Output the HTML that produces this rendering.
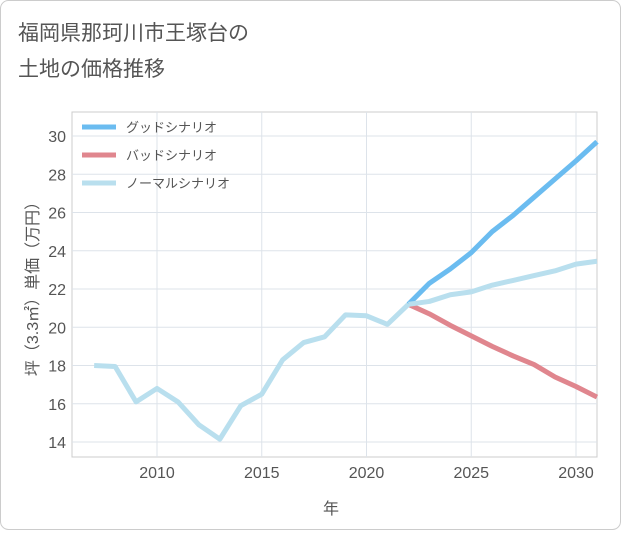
<!DOCTYPE html>
<html><head><meta charset="utf-8"><style>
body{margin:0;background:#fff;font-family:"Liberation Sans","Noto Sans CJK JP",sans-serif;}
#c{position:relative;width:621px;height:530px;}
</style></head><body>
<div id="c">
<svg id="s" width="621" height="530" xmlns="http://www.w3.org/2000/svg">
<rect x="0.5" y="0.5" width="620" height="529" rx="8" fill="#fff" stroke="#ccc"/>
<text x="18" y="40" font-size="21" fill="#555">福岡県那珂川市王塚台の</text>
<text x="18" y="76" font-size="21" fill="#555">土地の価格推移</text>
<text x="331" y="514" font-size="16" fill="#555" text-anchor="middle">年</text>
<text transform="translate(38,285) rotate(-90)" font-size="16" fill="#555" text-anchor="middle">坪（3.3㎡）単価（万円）</text>
<g id="grid"></g><g id="lines"></g><g id="legend"></g>
</svg></div>
<script>
const years=[2007,2008,2009,2010,2011,2012,2013,2014,2015,2016,2017,2018,2019,2020,2021,2022];
const hist=[18.0,17.95,16.1,16.8,16.1,14.9,14.15,15.9,16.5,18.3,19.2,19.5,20.65,20.6,20.15,21.2];
const futYears=[2022,2023,2024,2025,2026,2027,2028,2029,2030,2031];
const good=[21.2,22.3,23.05,23.9,25.0,25.85,26.8,27.75,28.7,29.7];
const bad=[21.2,20.7,20.1,19.55,19.0,18.5,18.05,17.4,16.9,16.35];
const normal=[21.2,21.35,21.7,21.85,22.2,22.45,22.7,22.95,23.3,23.45];
const xTicks=[2010,2015,2020,2025,2030];
const yTicks=[14,16,18,20,22,24,26,28,30];
const L=72,R=597,T=112,B=457;
const X=v=>157+(v-2010)*20.95, Y=v=>136+(30-v)*19.125;
const ns="http://www.w3.org/2000/svg";
function mk(p,t,a){const e=document.createElementNS(ns,t);for(const k in a)e.setAttribute(k,a[k]);p.appendChild(e);return e;}
const g=document.getElementById('grid');
let fr=mk(g,'rect',{x:L,y:T,width:R-L,height:B-T,fill:'none',stroke:'#ccc'});


xTicks.forEach(v=>{let l=mk(g,'line',{x1:X(v),x2:X(v),y1:T,y2:B,stroke:'#dde3ea'});


let t=mk(g,'text',{x:X(v),y:B+21,'font-size':16,fill:'#555','text-anchor':'middle'});t.textContent=v;

});
yTicks.forEach(v=>{let l=mk(g,'line',{x1:L,x2:R,y1:Y(v),y2:Y(v),stroke:'#dde3ea'});


let t=mk(g,'text',{x:L-6,y:Y(v)+6,'font-size':16,fill:'#555','text-anchor':'end'});t.textContent=v;

});
const lg=document.getElementById('lines');
function line(xs,ys,c,n){let p=mk(lg,'polyline',{points:xs.map((x,i)=>X(x)+','+Y(ys[i])).join(' '),fill:'none',stroke:c,'stroke-width':5,'stroke-linejoin':'round'});

}
line(futYears,good,'#6bbcf0','good-scenario-line');
line(futYears,bad,'#e0868e','bad-scenario-line');
line(futYears,normal,'#b9dfee','normal-scenario-line');
line(years,hist,'#b9dfee','historical-line');
const leg=document.getElementById('legend');
[['グッドシナリオ','#6bbcf0'],['バッドシナリオ','#e0868e'],['ノーマルシナリオ','#b9dfee']].forEach((d,i)=>{
let y=127+i*28;
let l=mk(leg,'line',{x1:82,x2:116,y1:y,y2:y,stroke:d[1],'stroke-width':5});


let t=mk(leg,'text',{x:126,y:y+5,'font-size':13,fill:'#555'});t.textContent=d[0];

});
</script></body></html>
